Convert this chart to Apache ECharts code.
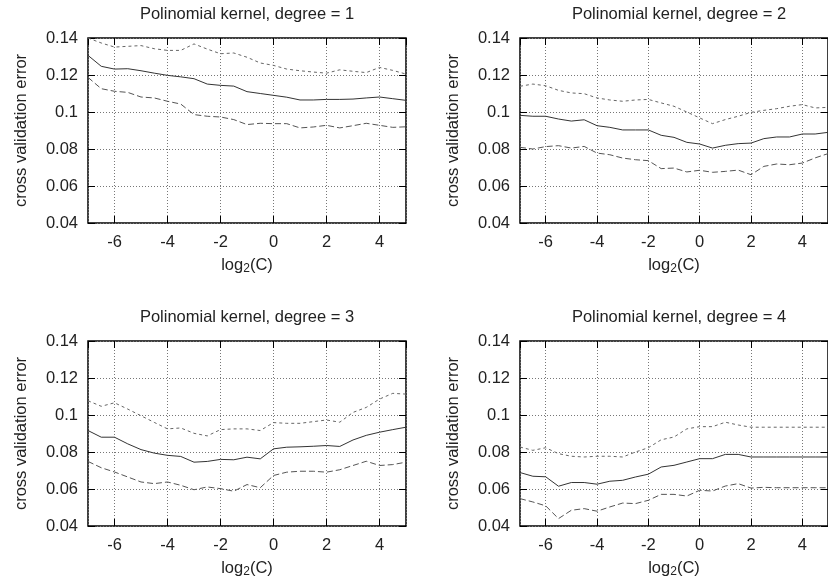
<!DOCTYPE html>
<html>
<head>
<meta charset="utf-8">
<script src="https://cdn.jsdelivr.net/npm/echarts@6/dist/echarts.min.js"></script>
<style>
html, body { margin: 0; padding: 0; background: #fff; }
#chart { width: 828px; height: 584px; }
</style>
</head>
<body>
<div id="chart"></div>
<script>
// log2(C) sample positions
var logC = [-7, -6.5, -6, -5.5, -5, -4.5, -4, -3.5, -3, -2.5, -2, -1.5, -1, -0.5, 0, 0.5, 1, 1.5, 2, 2.5, 3, 3.5, 4, 4.5, 5];

var titles = ['Polinomial kernel, degree = 1', 'Polinomial kernel, degree = 2',
              'Polinomial kernel, degree = 3', 'Polinomial kernel, degree = 4'];

// degree 1
var deg1Upper = [0.140, 0.1373, 0.1351, 0.1355, 0.1359, 0.1342, 0.1333, 0.1333, 0.1368, 0.134, 0.1315, 0.1319, 0.1296, 0.1265, 0.1252, 0.1232, 0.1223, 0.1216, 0.121, 0.1228, 0.122, 0.1213, 0.1241, 0.1225, 0.1205];
var deg1Mean  = [0.1306, 0.1247, 0.1232, 0.1234, 0.1223, 0.121, 0.1198, 0.119, 0.118, 0.1151, 0.1144, 0.114, 0.111, 0.110, 0.109, 0.108, 0.1065, 0.1065, 0.1068, 0.1068, 0.107, 0.1076, 0.1081, 0.1072, 0.1063];
var deg1Lower = [0.1187, 0.1126, 0.1112, 0.1106, 0.1081, 0.1076, 0.1058, 0.1043, 0.0986, 0.0977, 0.0973, 0.0959, 0.0932, 0.0939, 0.0937, 0.0937, 0.0914, 0.0919, 0.0928, 0.0914, 0.0926, 0.0939, 0.0928, 0.0917, 0.092];

// degree 2
var deg2Upper = [0.1139, 0.1151, 0.1142, 0.1117, 0.1103, 0.1099, 0.1076, 0.1065, 0.1058, 0.1065, 0.1068, 0.1049, 0.1031, 0.1, 0.0968, 0.0937, 0.0959, 0.0977, 0.0998, 0.1009, 0.1018, 0.1031, 0.104, 0.1022, 0.1025];
var deg2Mean  = [0.0982, 0.0977, 0.0977, 0.0962, 0.0951, 0.0958, 0.0926, 0.0917, 0.0903, 0.0903, 0.0903, 0.0874, 0.0863, 0.0836, 0.0827, 0.0805, 0.082, 0.0829, 0.0832, 0.0856, 0.0865, 0.0865, 0.0881, 0.0881, 0.089];
var deg2Lower = [0.0809, 0.08, 0.0813, 0.0818, 0.0805, 0.0814, 0.0778, 0.0769, 0.0751, 0.0742, 0.0737, 0.0694, 0.0697, 0.0676, 0.0685, 0.0674, 0.0679, 0.0686, 0.0661, 0.0706, 0.0719, 0.0715, 0.0724, 0.0752, 0.0775];

// degree 3
var deg3Upper = [0.1077, 0.1047, 0.1066, 0.1032, 0.0996, 0.096, 0.0925, 0.093, 0.0901, 0.0887, 0.0921, 0.0925, 0.0925, 0.0916, 0.0959, 0.0955, 0.0955, 0.0964, 0.0973, 0.0961, 0.1014, 0.1041, 0.1086, 0.1117, 0.1113];
var deg3Mean  = [0.0916, 0.088, 0.088, 0.0844, 0.0813, 0.0794, 0.0782, 0.0776, 0.0745, 0.0749, 0.076, 0.0758, 0.0772, 0.0763, 0.0817, 0.0826, 0.0828, 0.0831, 0.0835, 0.083, 0.0865, 0.089, 0.0907, 0.0921, 0.0934];
var deg3Lower = [0.0749, 0.0715, 0.0692, 0.0665, 0.0638, 0.0629, 0.0638, 0.062, 0.0596, 0.0611, 0.0602, 0.0588, 0.0624, 0.0607, 0.0673, 0.0691, 0.0696, 0.0696, 0.0691, 0.0704, 0.0727, 0.075, 0.0727, 0.0732, 0.0745];

// degree 4
var deg4Upper = [0.0827, 0.0809, 0.0823, 0.0791, 0.0777, 0.0773, 0.0777, 0.0777, 0.0773, 0.08, 0.0823, 0.0866, 0.0881, 0.0925, 0.0937, 0.0937, 0.0961, 0.0946, 0.0934, 0.0934, 0.0934, 0.0934, 0.0934, 0.0934, 0.0934];
var deg4Mean  = [0.0689, 0.0669, 0.0666, 0.0615, 0.0635, 0.0635, 0.0626, 0.0642, 0.0647, 0.0665, 0.068, 0.0719, 0.0728, 0.0746, 0.0764, 0.0764, 0.0787, 0.0787, 0.0773, 0.0773, 0.0773, 0.0773, 0.0773, 0.0773, 0.0773];
var deg4Lower = [0.0548, 0.053, 0.0509, 0.044, 0.0485, 0.0494, 0.048, 0.0503, 0.0524, 0.0521, 0.0539, 0.0571, 0.0571, 0.0562, 0.0593, 0.0589, 0.0616, 0.0629, 0.0605, 0.0609, 0.0607, 0.0607, 0.0607, 0.0607, 0.0607];

var panels = [
    [deg1Upper, deg1Mean, deg1Lower],
    [deg2Upper, deg2Mean, deg2Lower],
    [deg3Upper, deg3Mean, deg3Lower],
    [deg4Upper, deg4Mean, deg4Lower]
];

var font = 'Liberation Sans';
var textColor = '#222';
var fs = 16.5;

// plot boxes (right column runs past the picture edge, like the original)
var boxes = [
    {left: 88, top: 38},
    {left: 520, top: 38},
    {left: 88, top: 341},
    {left: 520, top: 341}
];
var boxW = 318, boxH = 185;

function pairs(ys) {
    var out = [];
    for (var i = 0; i < ys.length; i++) out.push([logC[i], ys[i]]);
    return out;
}

var grid = [], xAxis = [], yAxis = [], series = [], title = [];
var lineStyles = [
    {color: '#666', width: 1, type: [3, 3]},   // upper
    {color: '#333', width: 1, type: 'solid'},  // mean
    {color: '#555', width: 1, type: [6, 3]}    // lower
];
var tick = {inside: true, length: 7, lineStyle: {color: '#000', width: 1}};
var noLine = {show: false, onZero: false};

for (var g = 0; g < 4; g++) {
    var b = boxes[g];
    grid.push({
        left: b.left, top: b.top, width: boxW, height: boxH,
        show: true, borderColor: '#000', borderWidth: 1.5, backgroundColor: 'transparent'
    });
    title.push({
        text: titles[g],
        left: b.left + boxW / 2,
        top: b.top - 32,
        textAlign: 'center',
        padding: 0,
        textStyle: {fontSize: fs, fontWeight: 'normal', fontFamily: font, color: textColor}
    });
    // bottom x axis
    xAxis.push({
        type: 'value', gridIndex: g, min: -7, max: 5, splitNumber: 6,
        position: 'bottom',
        name: '{a|log}{s|2}{a|(C)}',
        nameLocation: 'middle', nameGap: 31,
        nameTextStyle: {
            rich: {
                a: {fontSize: fs, fontFamily: font, color: textColor, lineHeight: 18, verticalAlign: 'top'},
                s: {fontSize: 12, fontFamily: font, color: textColor, lineHeight: 12, padding: [11, 0, 0, 0], verticalAlign: 'bottom'}
            }
        },
        axisLine: noLine,
        axisTick: tick,
        axisLabel: {fontSize: fs, fontFamily: font, color: textColor, margin: 11, showMinLabel: false, showMaxLabel: false},
        splitLine: {show: true, lineStyle: {color: '#777', width: 1, type: [1, 2]}}
    });
    // top x axis (ticks only)
    xAxis.push({
        type: 'value', gridIndex: g, min: -7, max: 5, splitNumber: 6,
        position: 'top',
        axisLine: noLine,
        axisTick: tick,
        axisLabel: {show: false},
        splitLine: {show: false}
    });
    // left y axis
    yAxis.push({
        type: 'value', gridIndex: g, min: 0.04, max: 0.14, interval: 0.02,
        position: 'left',
        name: 'cross validation error',
        nameLocation: 'middle', nameGap: 58,
        nameTextStyle: {fontSize: fs, fontFamily: font, color: textColor},
        axisLine: noLine,
        axisTick: tick,
        axisLabel: {fontSize: fs, fontFamily: font, color: textColor, margin: 10},
        splitLine: {show: true, lineStyle: {color: '#777', width: 1, type: [1, 2]}}
    });
    // right y axis (ticks only)
    yAxis.push({
        type: 'value', gridIndex: g, min: 0.04, max: 0.14, interval: 0.02,
        position: 'right',
        axisLine: noLine,
        axisTick: tick,
        axisLabel: {show: false},
        splitLine: {show: false}
    });
    for (var k = 0; k < 3; k++) {
        series.push({
            type: 'line',
            xAxisIndex: g * 2,
            yAxisIndex: g * 2,
            data: pairs(panels[g][k]),
            symbol: 'none',
            silent: true,
            lineStyle: lineStyles[k],
            z: 3
        });
    }
}

var chart = echarts.init(document.getElementById('chart'));
chart.setOption({
    animation: false,
    backgroundColor: '#fff',
    title: title,
    grid: grid,
    xAxis: xAxis,
    yAxis: yAxis,
    series: series
});
</script>
</body>
</html>
